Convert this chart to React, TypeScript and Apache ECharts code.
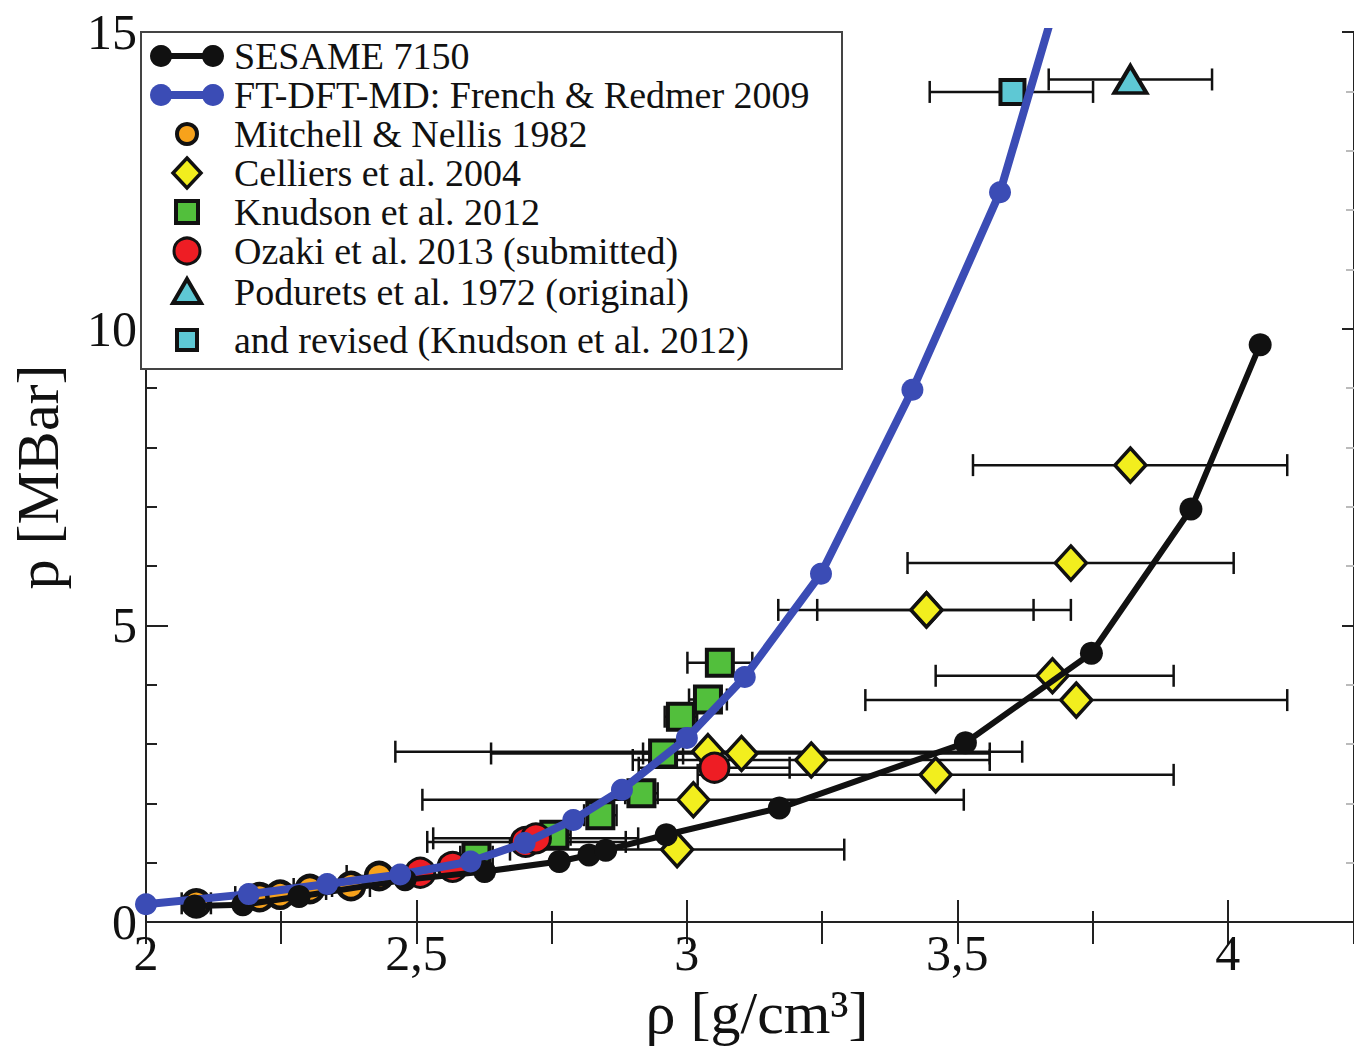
import React, { useEffect, useRef } from "react";
import * as echarts from "echarts";

// ---- data ----
const sesameRho = [2.09, 2.179, 2.283, 2.479, 2.626, 2.764, 2.819, 2.85, 2.962, 3.171, 3.515, 3.748, 3.932, 4.06];
const sesameP = [0.27, 0.29, 0.43, 0.71, 0.85, 1.02, 1.13, 1.21, 1.47, 1.92, 3.02, 4.53, 6.96, 9.73];

const ftRho = [2.0, 2.19, 2.335, 2.47, 2.6, 2.7, 2.79, 2.88, 3.0, 3.107, 3.248, 3.417, 3.579, 3.76];
const ftP = [0.3, 0.47, 0.64, 0.8, 1.02, 1.33, 1.72, 2.23, 3.1, 4.13, 5.87, 8.97, 12.3, 17.9];

const mitchellRho = [2.093, 2.21, 2.248, 2.303, 2.379, 2.431];
const mitchellP = [0.315, 0.42, 0.46, 0.556, 0.607, 0.775];
const mitchellErr = [0.027, 0.045, 0.03, 0.03, 0.035, 0.06];

const celliersRho = [2.982, 3.012, 3.039, 3.101, 3.23, 3.46, 3.443, 3.443, 3.676, 3.72, 3.71, 3.82];
const celliersP = [1.22, 2.06, 2.87, 2.84, 2.73, 2.48, 5.26, 5.26, 4.15, 3.74, 6.05, 7.7];
const celliersLo = [2.673, 2.511, 2.461, 2.638, 2.9, 3.02, 3.169, 3.241, 3.46, 3.33, 3.408, 3.529];
const celliersHi = [3.291, 3.512, 3.62, 3.56, 3.56, 3.9, 3.71, 3.641, 3.9, 4.11, 4.011, 4.11];

const knudsonRho = [2.611, 2.755, 2.84, 2.916, 2.956, 2.989, 3.039, 3.061];
const knudsonP = [1.1, 1.47, 1.8, 2.17, 2.84, 3.46, 3.75, 4.37];
const knudsonErr = [0.03, 0.03, 0.03, 0.03, 0.037, 0.03, 0.035, 0.06];

const ozakiRho = [2.507, 2.567, 2.702, 2.721, 3.051];
const ozakiP = [0.83, 0.93, 1.35, 1.41, 2.6];
const ozakiLo = [2.507, 2.567, 2.52, 2.531, 2.911];
const ozakiHi = [2.507, 2.567, 2.887, 2.91, 3.19];

const poduretsRho = [3.82];
const poduretsP = [14.2];
const poduretsLo = [3.669];
const poduretsHi = [3.971];

const revisedRho = [3.602];
const revisedP = [13.99];
const revisedLo = [3.449];
const revisedHi = [3.751];

const xTicks = [2, 2.5, 3, 3.5, 4];
const yTicks = [0, 5, 10, 15];

const legendLabels = [
  "SESAME 7150",
  "FT-DFT-MD: French & Redmer 2009",
  "Mitchell & Nellis 1982",
  "Celliers et al. 2004",
  "Knudson et al. 2012",
  "Ozaki et al. 2013 (submitted)",
  "Podurets et al. 1972 (original)",
  "and revised (Knudson et al. 2012)",
];

// ---- styles ----
const FONT = "'Liberation Serif', 'Times New Roman', serif";
const BLACK = "#111111";
const BLUE = "#3b4cb5";
const ORANGE = "#f7a21b";
const YELLOW = "#f2ee1e";
const GREEN = "#52bf3c";
const RED = "#ee1d24";
const CYAN = "#5ec8d4";

const GRID_LEFT = 141;
const GRID_RIGHT = -2;
const X_MIN = 2;
const X_MAX = 2 + (1354 - GRID_LEFT - GRID_RIGHT) / 544;

const zip = (a: number[], b: number[]) => a.map((v, i) => [v, b[i]]);

function errData(lo: number[], hi: number[], p: number[]) {
  const out: number[][] = [];
  lo.forEach((l, i) => {
    if (hi[i] - l > 1e-6) out.push([l, hi[i], p[i]]);
  });
  return out;
}
function symErr(x: number[], e: number[], p: number[]) {
  return errData(x.map((v, i) => v - e[i]), x.map((v, i) => v + e[i]), p);
}

function errorSeries(data: number[][]) {
  return {
    type: "custom",
    silent: true,
    clip: true,
    encode: { x: [0, 1], y: 2 },
    data,
    renderItem: (params: any, api: any) => {
      const a = api.coord([api.value(0), api.value(2)]);
      const b = api.coord([api.value(1), api.value(2)]);
      const h = 11;
      const style = { stroke: BLACK, lineWidth: 2.5, fill: null };
      return {
        type: "group",
        children: [
          { type: "line", shape: { x1: a[0], y1: a[1], x2: b[0], y2: b[1] }, style },
          { type: "line", shape: { x1: a[0], y1: a[1] - h, x2: a[0], y2: a[1] + h }, style },
          { type: "line", shape: { x1: b[0], y1: b[1] - h, x2: b[0], y2: b[1] + h }, style },
        ],
      };
    },
  };
}

function scatter(name: string, data: number[][], symbol: string, size: any, color: string, bw: number) {
  return {
    type: "scatter",
    name,
    data,
    symbol,
    symbolSize: size,
    itemStyle: { color, borderColor: BLACK, borderWidth: bw, opacity: 1 },
    emphasis: { disabled: true },
  };
}

function legendGraphics() {
  const rows = [56, 95, 134, 173, 212, 251, 292, 340];
  const cx = 187;
  const items: any[] = [
    {
      type: "rect",
      shape: { x: 141, y: 32, width: 701, height: 337 },
      style: { fill: "#ffffff", stroke: "#444", lineWidth: 2 },
      z: 100,
    },
  ];
  [[BLACK, 6], [BLUE, 8]].forEach(([c, w], i) => {
    const y = rows[i];
    items.push({ type: "line", shape: { x1: 161, y1: y, x2: 213, y2: y }, style: { stroke: c, lineWidth: w }, z: 101 });
    items.push({ type: "circle", shape: { cx: 161, cy: y, r: 11 }, style: { fill: c }, z: 101 });
    items.push({ type: "circle", shape: { cx: 213, cy: y, r: 11 }, style: { fill: c }, z: 101 });
  });
  items.push({ type: "circle", shape: { cx, cy: rows[2], r: 10 }, style: { fill: ORANGE, stroke: BLACK, lineWidth: 4 }, z: 101 });
  items.push({
    type: "polygon",
    shape: { points: [[cx, rows[3] - 15], [cx + 14, rows[3]], [cx, rows[3] + 15], [cx - 14, rows[3]]] },
    style: { fill: YELLOW, stroke: BLACK, lineWidth: 3.5 },
    z: 101,
  });
  items.push({ type: "rect", shape: { x: cx - 11, y: rows[4] - 11, width: 22, height: 22 }, style: { fill: GREEN, stroke: BLACK, lineWidth: 4 }, z: 101 });
  items.push({ type: "circle", shape: { cx, cy: rows[5], r: 13 }, style: { fill: RED, stroke: BLACK, lineWidth: 3 }, z: 101 });
  items.push({
    type: "polygon",
    shape: { points: [[cx, rows[6] - 13], [cx + 14, rows[6] + 11], [cx - 14, rows[6] + 11]] },
    style: { fill: CYAN, stroke: BLACK, lineWidth: 4 },
    z: 101,
  });
  items.push({ type: "rect", shape: { x: cx - 10, y: rows[7] - 10, width: 20, height: 20 }, style: { fill: CYAN, stroke: BLACK, lineWidth: 4 }, z: 101 });
  legendLabels.forEach((t, i) => {
    items.push({
      type: "text",
      x: 234,
      y: rows[i],
      style: {
        text: t,
        fill: BLACK,
        fontSize: 38,
        fontFamily: FONT,
        verticalAlign: "middle",
        align: "left",
      },
      z: 102,
    });
  });
  return items;
}

const fmtX = (v: number) => (xTicks.some((t) => Math.abs(t - v) < 1e-6) ? String(v).replace(".", ",") : "");
const fmtY = (v: number) => (yTicks.some((t) => Math.abs(t - v) < 1e-6) ? String(v) : "");

export default function App() {
  const ref = useRef<HTMLDivElement>(null);
  useEffect(() => {
    if (!ref.current) return;
    const chart = echarts.init(ref.current, undefined, { renderer: "svg" });
    const axisLine = { show: true, lineStyle: { color: "#222", width: 2 } };
    const tick = (len: number) => ({ show: true, inside: true, length: len, lineStyle: { color: "#222", width: 2 } });
    const minor = (n: number, len: number, c = "#222") => ({ show: true, splitNumber: n, length: len, lineStyle: { color: c, width: 2 } });
    const option: any = {
      animation: false,
      backgroundColor: "#ffffff",
      grid: { left: GRID_LEFT, right: GRID_RIGHT, top: 32, bottom: 128, containLabel: false },
      xAxis: [
        {
          type: "value",
          min: X_MIN,
          max: X_MAX,
          interval: 0.5,
          position: "bottom",
          axisLine,
          axisTick: tick(22),
          minorTick: minor(2, 11),
          splitLine: { show: false },
          axisLabel: { formatter: fmtX, fontFamily: FONT, fontSize: 50, color: BLACK, margin: 6, showMaxLabel: false },
          name: "ρ [g/cm³]",
          nameLocation: "middle",
          nameGap: 52,
          nameTextStyle: { fontFamily: FONT, fontSize: 60, color: BLACK, padding: [0, 0, 0, 14] },
        },
        {
          type: "value",
          min: X_MIN,
          max: X_MAX,
          interval: 0.5,
          position: "top",
          axisLine,
          axisTick: tick(22),
          minorTick: minor(2, 22),
          splitLine: { show: false },
          axisLabel: { show: false },
        },
      ],
      yAxis: [
        {
          type: "value",
          min: 0,
          max: 15,
          interval: 5,
          position: "left",
          axisLine,
          axisTick: tick(22),
          minorTick: minor(5, 11),
          splitLine: { show: false },
          axisLabel: { formatter: fmtY, fontFamily: FONT, fontSize: 50, color: BLACK, margin: 9 },
          name: "p [MBar]",
          nameLocation: "middle",
          nameRotate: 90,
          nameGap: 78,
          nameTextStyle: { fontFamily: FONT, fontSize: 60, color: BLACK },
        },
        {
          type: "value",
          min: 0,
          max: 15,
          interval: 5,
          position: "right",
          axisLine,
          axisTick: tick(12),
          minorTick: minor(5, 8, "#bbb"),
          splitLine: { show: false },
          axisLabel: { show: false },
        },
      ],
      series: [
        {
          type: "line",
          name: "SESAME 7150",
          data: zip(sesameRho, sesameP),
          symbol: "circle",
          symbolSize: 23,
          showAllSymbol: true,
          lineStyle: { color: BLACK, width: 6 },
          itemStyle: { color: BLACK },
          emphasis: { disabled: true },
        },
        {
          type: "line",
          name: "FT-DFT-MD: French & Redmer 2009",
          data: zip(ftRho, ftP),
          symbol: "circle",
          symbolSize: 22,
          showAllSymbol: true,
          clip: true,
          lineStyle: { color: BLUE, width: 8 },
          itemStyle: { color: BLUE },
          emphasis: { disabled: true },
        },
        errorSeries(symErr(mitchellRho, mitchellErr, mitchellP)),
        errorSeries(errData(celliersLo, celliersHi, celliersP)),
        errorSeries(symErr(knudsonRho, knudsonErr, knudsonP)),
        errorSeries(errData(ozakiLo, ozakiHi, ozakiP)),
        errorSeries(errData(poduretsLo, poduretsHi, poduretsP)),
        errorSeries(errData(revisedLo, revisedHi, revisedP)),
        scatter("Mitchell & Nellis 1982", zip(mitchellRho, mitchellP), "circle", 26, ORANGE, 4.5),
        scatter("Celliers et al. 2004", zip(celliersRho, celliersP), "diamond", [31, 34], YELLOW, 3.5),
        scatter("Knudson et al. 2012", zip(knudsonRho, knudsonP), "rect", 26, GREEN, 4),
        scatter("Ozaki et al. 2013 (submitted)", zip(ozakiRho, ozakiP), "circle", 29, RED, 3),
        scatter("Podurets et al. 1972 (original)", zip(poduretsRho, poduretsP), "triangle", [32, 27], CYAN, 4),
        scatter("and revised (Knudson et al. 2012)", zip(revisedRho, revisedP), "rect", 24, CYAN, 4),
      ],
      graphic: legendGraphics(),
    };
    chart.setOption(option);
    return () => chart.dispose();
  }, []);
  return (
    <div
      ref={ref}
      style={{ position: "absolute", left: 0, top: 0, width: 1354, height: 1050, background: "#fff" }}
    />
  );
}
